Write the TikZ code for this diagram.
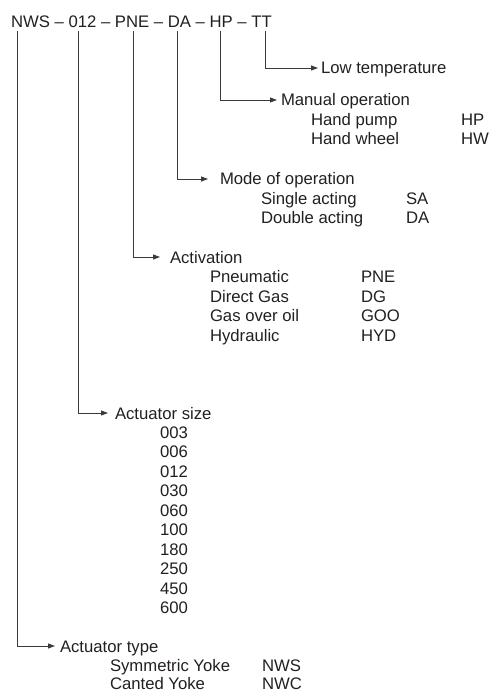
\documentclass[tikz,border=0pt]{standalone}
\usepackage{fontspec}
\setmainfont{Liberation Sans}
\usetikzlibrary{arrows.meta}
\definecolor{txt}{HTML}{231F20}
\definecolor{ln}{HTML}{3A3A3A}
\begin{document}
\begin{tikzpicture}[x=1pt,y=-1pt,
  font=\fontsize{16.7}{19.5}\selectfont,
  lbl/.style={anchor=base west, inner sep=0pt, outer sep=0pt, text=txt},
  br/.style={draw=ln, line width=0.9pt, -{Triangle[length=7pt,width=5pt]}}]
\useasboundingbox (0,0) rectangle (491,692);

% header code
\node[lbl] (code) at (11,28) {NWS – 012 – PNE – DA – HP – TT};
\coordinate (tNWS) at (17,31);
\coordinate (tSIZE) at (78,31);
\coordinate (tPNE) at (133,31);
\coordinate (tDA) at (177,31);
\coordinate (tHP) at (220,31);
\coordinate (tTT) at (265,31);

% Low temperature
\node[lbl] (lt) at (321,74) {Low temperature};
\draw[br] (tTT) |- ([shift={(-3,-6)}]lt.base west);

% Manual operation
\node[lbl] (mo) at (281,106) {Manual operation};
\draw[br] (tHP) |- ([shift={(-4,-6)}]mo.base west);
\node[lbl] (hp1) at (311,125.5) {Hand pump};
\node[lbl] (hp2) at (461,125.5) {HP};
\node[lbl] (hw1) at (311,145) {Hand wheel};
\node[lbl] (hw2) at (461,145) {HW};

% Mode of operation
\node[lbl] (mode) at (220,185) {Mode of operation};
\draw[br] (tDA) |- ([shift={(-12,-6)}]mode.base west);
\node[lbl] (sa1) at (261,204.5) {Single acting};
\node[lbl] (sa2) at (406,204.5) {SA};
\node[lbl] (da1) at (261,224) {Double acting};
\node[lbl] (da2) at (406,224) {DA};

% Activation
\node[lbl] (act) at (170,263) {Activation};
\draw[br] (tPNE) |- ([shift={(-10,-6)}]act.base west);
\node[lbl] (a1) at (210,282.5) {Pneumatic};
\node[lbl] (a1c) at (361,282.5) {PNE};
\node[lbl] (a2) at (210,302) {Direct Gas};
\node[lbl] (a2c) at (361,302) {DG};
\node[lbl] (a3) at (210,321.5) {Gas over oil};
\node[lbl] (a3c) at (361,321.5) {GOO};
\node[lbl] (a4) at (210,341) {Hydraulic};
\node[lbl] (a4c) at (361,341) {HYD};

% Actuator size
\node[lbl] (size) at (115,419) {Actuator size};
\draw[br] (tSIZE) |- ([shift={(-7,-6)}]size.base west);
\foreach \v [count=\i from 0] in {003,006,012,030,060,100,180,250,450,600}
  \node[lbl] (s\i) at (160,438.5+19.45*\i) {\v};

% Actuator type
\node[lbl] (type) at (60,652) {Actuator type};
\draw[br] (tNWS) |- ([shift={(-5,-6)}]type.base west);
\node[lbl] (ty1) at (110,671) {Symmetric Yoke};
\node[lbl] (ty1c) at (262,671) {NWS};
\node[lbl] (ty2) at (110,689) {Canted Yoke};
\node[lbl] (ty2c) at (262,689) {NWC};
\end{tikzpicture}
\end{document}
